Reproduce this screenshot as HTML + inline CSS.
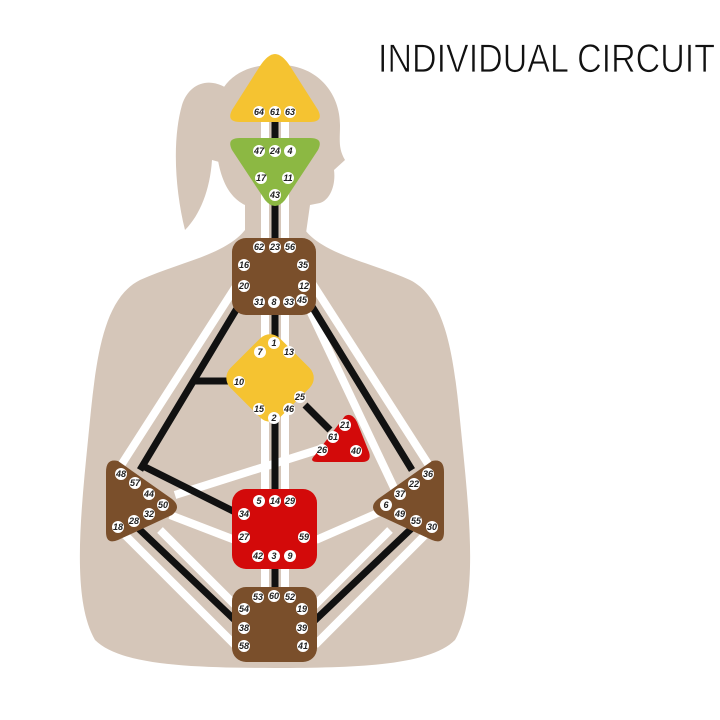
<!DOCTYPE html>
<html><head><meta charset="utf-8"><style>
body{margin:0;background:#fff;width:720px;height:720px;overflow:hidden}
svg{display:block}
.n circle{fill:#fff}
.n text{font:italic bold 9px "Liberation Sans",sans-serif;fill:#222;text-anchor:middle;dominant-baseline:central}
</style></head><body>
<svg width="720" height="720" viewBox="0 0 720 720">
<text x="378" y="72" font-family="Liberation Sans,sans-serif" font-size="40" textLength="337" lengthAdjust="spacingAndGlyphs" fill="#111" stroke="#fff" stroke-width="0.8">INDIVIDUAL CIRCUIT</text>
<g fill="#d5c6b9">
<path d="M235 95 C215 75 190 80 182 105 C172 140 175 190 185 230 C200 215 210 190 212 160 L230 165 L235 95Z"/>
<path d="M215 120 C215 75 250 62 285 65 C320 68 340 95 340 125 C340 140 338 148 345 160 L334 170 C336 185 330 200 320 203 L310 205 L305 240 L245 240 L245 205 C225 195 215 170 215 120Z"/>
<path d="M245 230 L305 230 C325 255 370 262 410 280 C450 300 455 370 462 440 C470 520 478 600 455 640 C430 665 360 668 275 668 C190 668 120 665 95 640 C72 600 80 520 88 440 C95 370 100 300 140 280 C180 262 225 255 245 230Z"/>
</g>
<g stroke="#fff" stroke-width="8" fill="none">
<line x1="265" y1="100" x2="265" y2="620"/>
<line x1="285" y1="100" x2="285" y2="620"/>
<line x1="240" y1="280" x2="118" y2="470"/>
<line x1="310" y1="280" x2="432" y2="470"/>
<line x1="125" y1="535" x2="235" y2="645"/>
<line x1="160" y1="530" x2="240" y2="610"/>
<line x1="425" y1="535" x2="315" y2="645"/>
<line x1="390" y1="530" x2="310" y2="610"/>
<line x1="175" y1="495" x2="330" y2="446"/>
<line x1="170" y1="515" x2="235" y2="540"/>
<line x1="316" y1="540" x2="380" y2="512"/>
<line x1="305" y1="300" x2="395" y2="490"/>
</g>
<g stroke="#111" stroke-width="7" fill="none">
<line x1="275" y1="100" x2="275" y2="620"/>
<line x1="245" y1="295" x2="140" y2="470"/>
<line x1="305" y1="295" x2="412" y2="470"/>
<line x1="138" y1="528" x2="240" y2="625"/>
<line x1="412" y1="528" x2="310" y2="625"/>
<line x1="228" y1="381" x2="192" y2="381"/>
<line x1="145" y1="467" x2="235" y2="512"/>
<line x1="305" y1="405" x2="330" y2="430"/>
</g>
<path d="M275 54 Q282 54 290 66 L318 110 Q324 122 310 122 L240 122 Q226 122 232 110 L260 66 Q268 54 275 54Z" fill="#f5c331"/>
<path d="M240 138 L310 138 Q324 138 318 150 L285 200 Q275 212 265 200 L232 150 Q226 138 240 138Z" fill="#8cb843"/>
<rect x="232" y="238" width="84" height="77" rx="14" fill="#7a4f2b"/>
<rect x="240" y="338" width="70" height="70" rx="14" fill="#f5c331" transform="rotate(45 275 373) translate(0 7)"/>
<path d="M345 416 Q352 412 357 422 L369 452 Q372 462 362 462 L318 462 Q308 462 315 455 Z" fill="#d30a0a"/>
<rect x="232" y="489" width="85" height="80" rx="14" fill="#d30a0a"/>
<rect x="232" y="587" width="85" height="75" rx="14" fill="#7a4f2b"/>
<path d="M118 461 Q106 458 106 472 L106 532 Q106 545 118 540 L172 515 Q182 507 172 499 Z" fill="#7a4f2b"/>
<path d="M432 461 Q444 458 444 472 L444 532 Q444 545 432 540 L378 515 Q368 507 378 499 Z" fill="#7a4f2b"/>
<g class="n">
<g><circle cx="259" cy="112" r="6"/><text x="259" y="112">64</text></g>
<g><circle cx="275" cy="112" r="6"/><text x="275" y="112">61</text></g>
<g><circle cx="290" cy="112" r="6"/><text x="290" y="112">63</text></g>
<g><circle cx="259" cy="151" r="6"/><text x="259" y="151">47</text></g>
<g><circle cx="275" cy="151" r="6"/><text x="275" y="151">24</text></g>
<g><circle cx="290" cy="151" r="6"/><text x="290" y="151">4</text></g>
<g><circle cx="261" cy="178" r="6"/><text x="261" y="178">17</text></g>
<g><circle cx="288" cy="178" r="6"/><text x="288" y="178">11</text></g>
<g><circle cx="275" cy="195" r="6"/><text x="275" y="195">43</text></g>
<g><circle cx="259" cy="247" r="6"/><text x="259" y="247">62</text></g>
<g><circle cx="275" cy="247" r="6"/><text x="275" y="247">23</text></g>
<g><circle cx="290" cy="247" r="6"/><text x="290" y="247">56</text></g>
<g><circle cx="244" cy="265" r="6"/><text x="244" y="265">16</text></g>
<g><circle cx="303" cy="265" r="6"/><text x="303" y="265">35</text></g>
<g><circle cx="244" cy="286" r="6"/><text x="244" y="286">20</text></g>
<g><circle cx="304" cy="286" r="6"/><text x="304" y="286">12</text></g>
<g><circle cx="259" cy="302" r="6"/><text x="259" y="302">31</text></g>
<g><circle cx="274" cy="302" r="6"/><text x="274" y="302">8</text></g>
<g><circle cx="289" cy="302" r="6"/><text x="289" y="302">33</text></g>
<g><circle cx="302" cy="300" r="6"/><text x="302" y="300">45</text></g>
<g><circle cx="274" cy="343" r="6"/><text x="274" y="343">1</text></g>
<g><circle cx="260" cy="352" r="6"/><text x="260" y="352">7</text></g>
<g><circle cx="289" cy="352" r="6"/><text x="289" y="352">13</text></g>
<g><circle cx="239" cy="382" r="6"/><text x="239" y="382">10</text></g>
<g><circle cx="300" cy="397" r="6"/><text x="300" y="397">25</text></g>
<g><circle cx="259" cy="409" r="6"/><text x="259" y="409">15</text></g>
<g><circle cx="289" cy="409" r="6"/><text x="289" y="409">46</text></g>
<g><circle cx="274" cy="418" r="6"/><text x="274" y="418">2</text></g>
<g><circle cx="345" cy="425" r="6"/><text x="345" y="425">21</text></g>
<g><circle cx="333" cy="437" r="6"/><text x="333" y="437">61</text></g>
<g><circle cx="322" cy="450" r="6"/><text x="322" y="450">26</text></g>
<g><circle cx="356" cy="451" r="6"/><text x="356" y="451">40</text></g>
<g><circle cx="121" cy="474" r="6"/><text x="121" y="474">48</text></g>
<g><circle cx="135" cy="483" r="6"/><text x="135" y="483">57</text></g>
<g><circle cx="149" cy="494" r="6"/><text x="149" y="494">44</text></g>
<g><circle cx="163" cy="505" r="6"/><text x="163" y="505">50</text></g>
<g><circle cx="149" cy="514" r="6"/><text x="149" y="514">32</text></g>
<g><circle cx="134" cy="521" r="6"/><text x="134" y="521">28</text></g>
<g><circle cx="118" cy="527" r="6"/><text x="118" y="527">18</text></g>
<g><circle cx="428" cy="474" r="6"/><text x="428" y="474">36</text></g>
<g><circle cx="414" cy="484" r="6"/><text x="414" y="484">22</text></g>
<g><circle cx="400" cy="494" r="6"/><text x="400" y="494">37</text></g>
<g><circle cx="386" cy="505" r="6"/><text x="386" y="505">6</text></g>
<g><circle cx="400" cy="514" r="6"/><text x="400" y="514">49</text></g>
<g><circle cx="416" cy="521" r="6"/><text x="416" y="521">55</text></g>
<g><circle cx="432" cy="527" r="6"/><text x="432" y="527">30</text></g>
<g><circle cx="259" cy="501" r="6"/><text x="259" y="501">5</text></g>
<g><circle cx="275" cy="501" r="6"/><text x="275" y="501">14</text></g>
<g><circle cx="290" cy="501" r="6"/><text x="290" y="501">29</text></g>
<g><circle cx="244" cy="514" r="6"/><text x="244" y="514">34</text></g>
<g><circle cx="244" cy="537" r="6"/><text x="244" y="537">27</text></g>
<g><circle cx="304" cy="537" r="6"/><text x="304" y="537">59</text></g>
<g><circle cx="258" cy="556" r="6"/><text x="258" y="556">42</text></g>
<g><circle cx="274" cy="556" r="6"/><text x="274" y="556">3</text></g>
<g><circle cx="290" cy="556" r="6"/><text x="290" y="556">9</text></g>
<g><circle cx="258" cy="597" r="6"/><text x="258" y="597">53</text></g>
<g><circle cx="274" cy="596" r="6"/><text x="274" y="596">60</text></g>
<g><circle cx="290" cy="597" r="6"/><text x="290" y="597">52</text></g>
<g><circle cx="244" cy="609" r="6"/><text x="244" y="609">54</text></g>
<g><circle cx="302" cy="609" r="6"/><text x="302" y="609">19</text></g>
<g><circle cx="244" cy="628" r="6"/><text x="244" y="628">38</text></g>
<g><circle cx="302" cy="628" r="6"/><text x="302" y="628">39</text></g>
<g><circle cx="244" cy="646" r="6"/><text x="244" y="646">58</text></g>
<g><circle cx="303" cy="646" r="6"/><text x="303" y="646">41</text></g>
</g>
</svg>
</body></html>
